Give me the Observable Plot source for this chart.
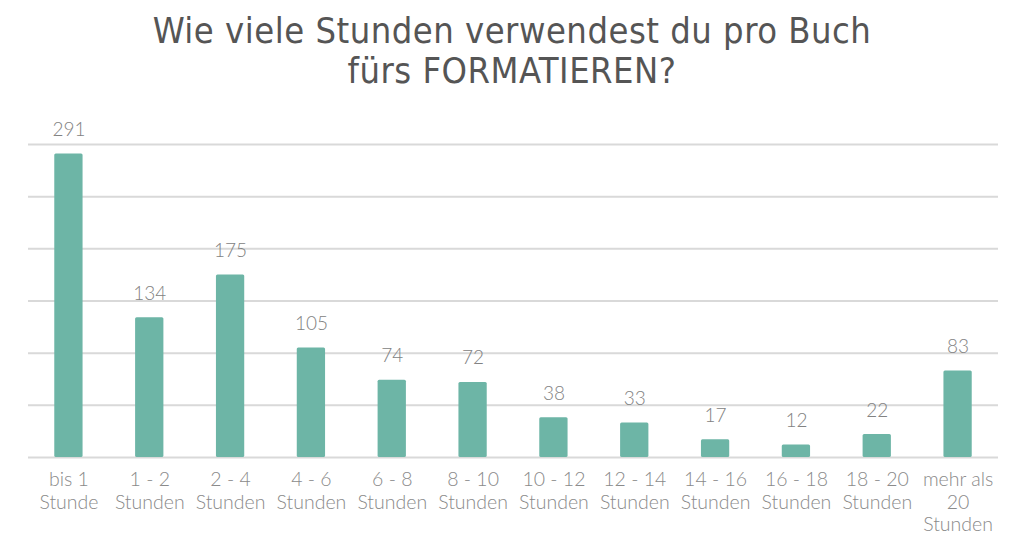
<!DOCTYPE html>
<html><head><meta charset="utf-8">
<script src="https://cdn.jsdelivr.net/npm/d3@7"></script>
<script src="https://cdn.jsdelivr.net/npm/@observablehq/plot@0.6"></script>
<style>
body{margin:0;background:#fff;width:1024px;height:549px;overflow:hidden}
#title{font-family:"Liberation Sans Narrow","DejaVu Sans Condensed",sans-serif;color:#555;font-size:36px;text-align:center;line-height:40px;padding-top:11px;box-sizing:border-box;height:100px;letter-spacing:0.5px}
</style></head><body>
<div id="title">Wie viele Stunden verwendest du pro Buch<br>fürs FORMATIEREN?</div>
<div id="chart"></div>
<script>
const categories = ["bis 1\nStunde","1 - 2\nStunden","2 - 4\nStunden","4 - 6\nStunden","6 - 8\nStunden","8 - 10\nStunden","10 - 12\nStunden","12 - 14\nStunden","14 - 16\nStunden","16 - 18\nStunden","18 - 20\nStunden","mehr als\n20\nStunden"];
const counts = [291,134,175,105,74,72,38,33,17,12,22,83];
const gridValues = [0,50,100,150,200,250,300];
const data = categories.map((c,i)=>({cat:c,n:counts[i]}));
const chart = Plot.plot({
  width:1024, height:449,
  marginTop:44, marginBottom:92, marginLeft:28, marginRight:26,
  style:{fontFamily:"Lato, sans-serif", background:"#fff"},
  x:{domain:categories, paddingInner:0.65, paddingOuter:0.325, round:false, label:null},
  y:{domain:[0,300], axis:null},
  marks:[
    Plot.ruleY(gridValues,{stroke:"#d9d9d9", strokeWidth:2}),
    Plot.barY(data,{x:"cat", y:"n", fill:"#6db5a6", rx:1.5}),
    Plot.text(data,{x:"cat", y:"n", text:d=>String(d.n), dy:-24, fill:"#828282", fontSize:19, fontWeight:300}),
    Plot.axisX({tickSize:0, tickPadding:13, fontSize:19.5, fontWeight:300, lineHeight:1.15, color:"#8a8a8a", label:null})
  ]
});
document.getElementById("chart").appendChild(chart);
</script>
</body></html>
